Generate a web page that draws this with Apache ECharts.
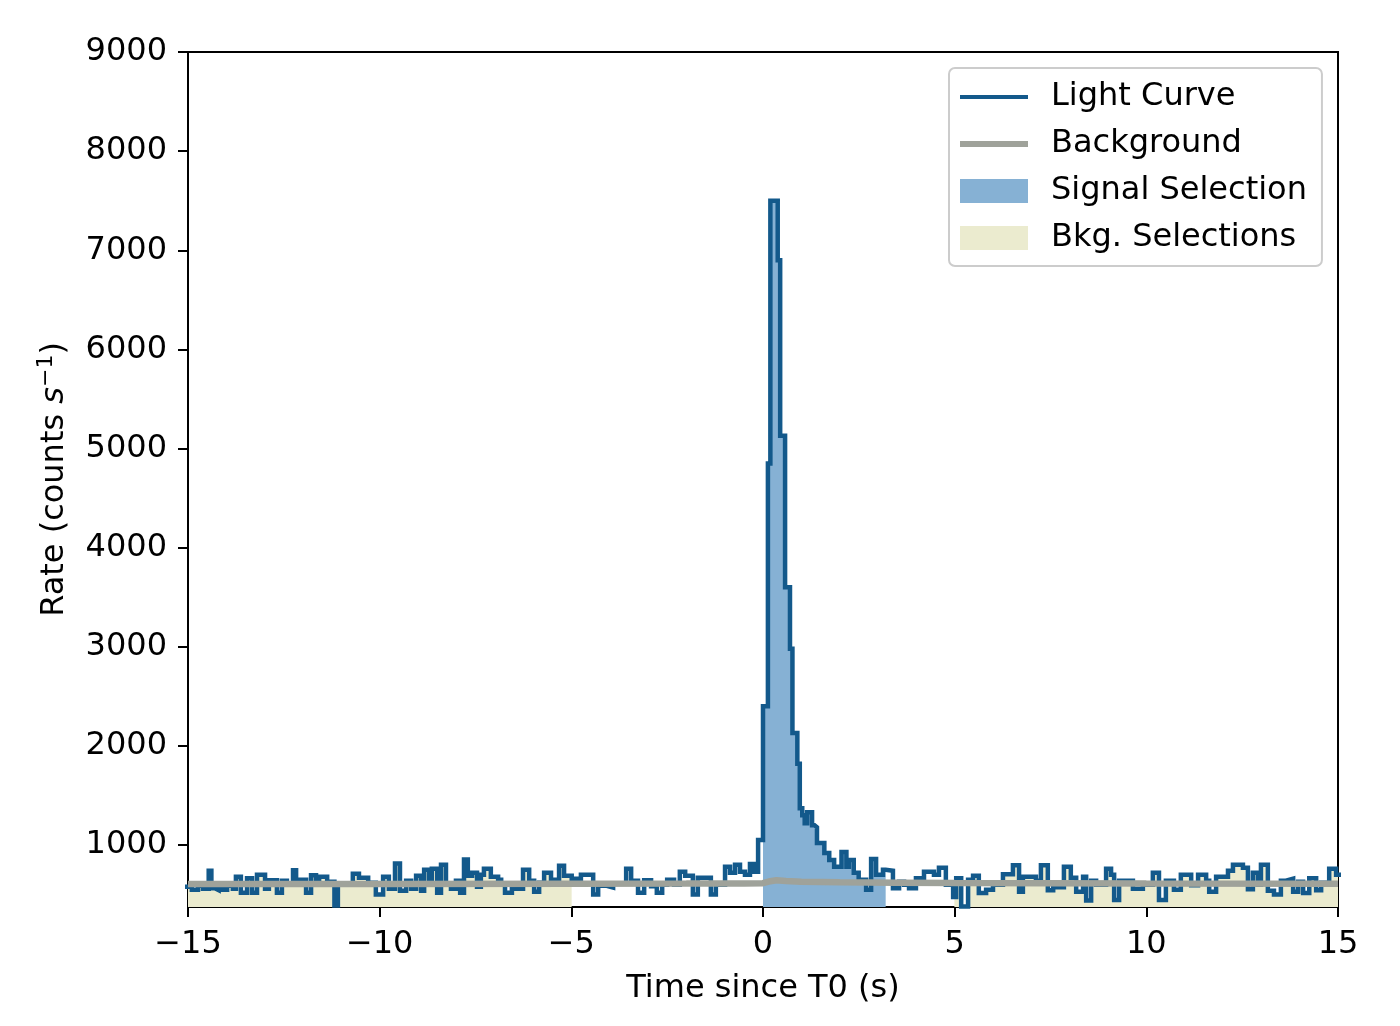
<!DOCTYPE html>
<html><head><meta charset="utf-8">
<script src="https://cdn.jsdelivr.net/npm/echarts@6/dist/echarts.min.js"></script>
<style>html,body{margin:0;padding:0;background:#fff;} #c{width:1400px;height:1026px;}</style>
</head><body><div id="c"></div>
<script>
// ---- data (step starts in seconds since T0, rates in counts/s) ----
const leftTimes = [
 -15.1,-14.9,-14.74,-14.61,-14.46,-14.39,-14.3,-14.2,-14.09,-13.98,
 -13.83,-13.75,-13.62,-13.46,-13.33,-13.2,-12.99,-12.89,-12.68,-12.55,
 -12.42,-12.26,-12.18,-11.92,-11.79,-11.66,-11.58,-11.37,-11.18,-11.09,
 -10.7,-10.54,-10.3,-10.1,-9.91,-9.76,-9.6,-9.47,-9.31,-9.18,
 -9.05,-8.92,-8.84,-8.71,-8.64,-8.5,-8.4,-8.27,-8.14,-8.01,
 -7.9,-7.8,-7.7,-7.59,-7.46,-7.36,-7.28,-7.1,-6.91,-6.83,
 -6.73,-6.55,-6.44,-6.26,-6.1,-5.97,-5.84,-5.71,-5.53,-5.32,-5.19];
const leftRates = [
 580,550,590,560,740,565,545,600,550,590,
 560,680,520,665,520,700,560,645,520,640,
 600,745,650,520,695,640,680,630,390,600,
 710,670,620,500,680,560,815,540,640,560,
 690,540,750,620,760,520,800,600,560,640,
 520,855,690,720,580,700,760,680,650,610,
 520,590,560,750,640,530,620,720,650,790,690];
const preTimes = [
 -4.99,-4.75,-4.43,-4.3,-4.1,-3.91,-3.57,-3.44,-3.26,-3.1,
 -2.92,-2.77,-2.63,-2.5,-2.32,-2.17,-2.03,-1.83,-1.7,-1.36,
 -1.23,-0.99,-0.86,-0.73,-0.6,-0.47,-0.34,-0.23,-0.128];
const preRates = [
 660,700,500,590,570,610,760,640,520,645,
 585,520,600,650,600,730,690,500,670,500,
 600,780,720,800,730,700,810,730,1050];
const burstTimes = [
 0,0.128,0.192,0.384,0.448,0.576,0.704,0.768,0.896,0.96,
 1.024,1.088,1.152,1.28,1.344,1.408,1.6,1.728,1.856,2.048,
 2.176,2.24,2.368,2.496,2.69,2.82,2.95,3.13];
const burstRates = [
 2400,4850,7500,6900,5130,3600,2980,2130,1820,1370,
 1300,1220,1330,1200,1180,1020,920,850,780,930,
 780,850,720,650,550,860,700,750];
const postTimes = [
 3.2,3.39,3.55,3.68,3.81,3.99,4.2,4.46,4.59,4.77,
 4.96,5.04,5.17,5.35,5.48,5.63,5.82,6.0,6.26,6.52,
 6.68,6.78,7.12,7.25,7.43,7.57,7.85,8.03,8.17,8.35,
 8.43,8.56,8.69,8.95,9.08,9.16,9.29,9.65,9.91,10.17,
 10.33,10.51,10.72,10.9,11.17,11.35,11.56,11.64,11.82,12.13,
 12.26,12.52,12.65,12.78,12.91,12.99,13.17,13.33,13.51,13.64,
 13.83,13.96,14.09,14.25,14.43,14.56,14.77,14.95,15.1];
const postRates = [
 740,565,630,600,565,665,730,700,770,600,
 475,665,380,650,690,515,550,600,705,795,
 530,680,640,795,545,575,780,670,530,680,
 440,640,600,760,700,445,640,560,600,720,
 445,640,550,700,595,700,640,530,680,740,
 800,770,555,720,600,800,540,500,640,660,
 530,630,515,665,545,620,760,700,700];
const bkgTimes = [-15,-10,-5,-2,-0.5,0,0.15,0.35,0.6,1.0,2.0,3.5,5,10,15];
const bkgRates = [606,608,610,611,612,615,632,645,638,630,624,620,616,612,610];
const signalRange = [0, 3.2];
const bkgRanges = [[-15.1, -4.992], [4.992, 15.1]];
const xTicks = [-15,-10,-5,0,5,10,15];
const yTicks = [1000,2000,3000,4000,5000,6000,7000,8000,9000];
const seriesNames = ['Light Curve','Background','Signal Selection','Bkg. Selections'];

// ---- build ----
const LC = '#13598b', BK = '#9fa29a', SIG = '#86b1d4', SEL = '#ebebcf';
const FONT = 'DejaVu Sans';
const FS = 32;
const lcTimes = [].concat(leftTimes, preTimes, burstTimes, postTimes);
const lcRates = [].concat(leftRates, preRates, burstRates, postRates);
const n = Math.min(lcTimes.length, lcRates.length);
const lcData = [];
for (let i = 0; i < n; i++) lcData.push([lcTimes[i], lcRates[i]]);
const bkgData = bkgTimes.map((t, i) => [t, bkgRates[i]]);
function rateAt(t) { let v = lcRates[0]; for (let i = 0; i < n; i++) { if (lcTimes[i] <= t) v = lcRates[i]; else break; } return v; }
function selection(r) {
  const pts = [[r[0], rateAt(r[0])]];
  for (let i = 0; i < n; i++) if (lcTimes[i] > r[0] && lcTimes[i] < r[1]) pts.push([lcTimes[i], lcRates[i]]);
  pts.push([r[1], rateAt(r[1] - 1e-6)]);
  return pts;
}
function fill(name, color, r) {
  return { type: 'line', name, step: 'end', data: selection(r), symbol: 'none', showSymbol: false,
    lineStyle: { width: 0, color }, itemStyle: { color }, areaStyle: { color, opacity: 1, origin: 'start' },
    z: 1, silent: true };
}
const tf = (v) => v < 0 ? '\u2212' + (-v) : String(v);
const chart = echarts.init(document.getElementById('c'), null, { renderer: 'canvas' });
chart.setOption({
  animation: false,
  textStyle: { fontFamily: FONT },
  grid: { left: 188, right: 62, top: 52, bottom: 119, show: true, borderColor: '#000', borderWidth: 2, backgroundColor: 'transparent' },
  legend: {
    orient: 'vertical', left: 949, top: 68, padding: [13, 15, 12, 8], itemGap: 15,
    itemWidth: 68, itemHeight: 24, selectedMode: false,
    backgroundColor: 'rgba(255,255,255,0.8)', borderColor: '#cccccc', borderWidth: 2, borderRadius: 6,
    textStyle: { fontFamily: FONT, fontSize: FS, color: '#000', lineHeight: 32, padding: [0, 0, 0, 18] },
    itemStyle: { borderWidth: 0 },
    data: [
      { name: seriesNames[0], lineStyle: { width: 4 }, itemStyle: { opacity: 0 } },
      { name: seriesNames[1], lineStyle: { width: 6 }, itemStyle: { opacity: 0 } },
      { name: seriesNames[2], icon: 'rect' },
      { name: seriesNames[3], icon: 'rect' }
    ]
  },
  xAxis: {
    type: 'value', min: -15, max: 15, interval: 5,
    axisLine: { show: true, onZero: false, lineStyle: { color: '#000', width: 2 } },
    axisTick: { show: true, length: 10, lineStyle: { color: '#000', width: 2 }, customValues: xTicks },
    axisLabel: { customValues: xTicks, formatter: tf, fontSize: FS, color: '#000', margin: 22, fontFamily: FONT },
    splitLine: { show: false },
    name: 'Time since T0 (s)', nameLocation: 'middle', nameGap: 66,
    nameTextStyle: { fontSize: FS, color: '#000', fontFamily: FONT }
  },
  yAxis: {
    type: 'value', min: 375, max: 9000,
    axisLine: { show: true, onZero: false, lineStyle: { color: '#000', width: 2 } },
    axisTick: { show: true, length: 10, lineStyle: { color: '#000', width: 2 }, customValues: yTicks },
    axisLabel: { customValues: yTicks, formatter: (v) => String(v), fontSize: FS, color: '#000', margin: 21, fontFamily: FONT },
    splitLine: { show: false },
    name: '{n|Rate (counts }{i|s}{sup|\u22121}{n|)}', nameLocation: 'middle', nameGap: 113,
    nameTextStyle: {
      color: '#000', fontFamily: FONT, fontSize: FS,
      rich: {
        n: { fontSize: FS, fontFamily: FONT, color: '#000', lineHeight: 40 },
        i: { fontSize: FS, fontFamily: FONT, fontStyle: 'italic', color: '#000', lineHeight: 40 },
        sup: { fontSize: 22, fontFamily: FONT, color: '#000', verticalAlign: 'top', lineHeight: 26 }
      }
    }
  },
  series: [
    fill(seriesNames[2], SIG, signalRange),
    fill(seriesNames[3], SEL, bkgRanges[0]),
    fill(seriesNames[3], SEL, bkgRanges[1]),
    { type: 'line', name: seriesNames[0], step: 'end', data: lcData, symbol: 'none', showSymbol: false,
      lineStyle: { width: 4.5, color: LC, join: 'miter' }, itemStyle: { color: LC }, z: 3, silent: true },
    { type: 'line', name: seriesNames[1], data: bkgData, symbol: 'none', showSymbol: false,
      lineStyle: { width: 6.5, color: BK }, itemStyle: { color: BK }, z: 4, silent: true }
  ]
});
</script>
</body></html>
